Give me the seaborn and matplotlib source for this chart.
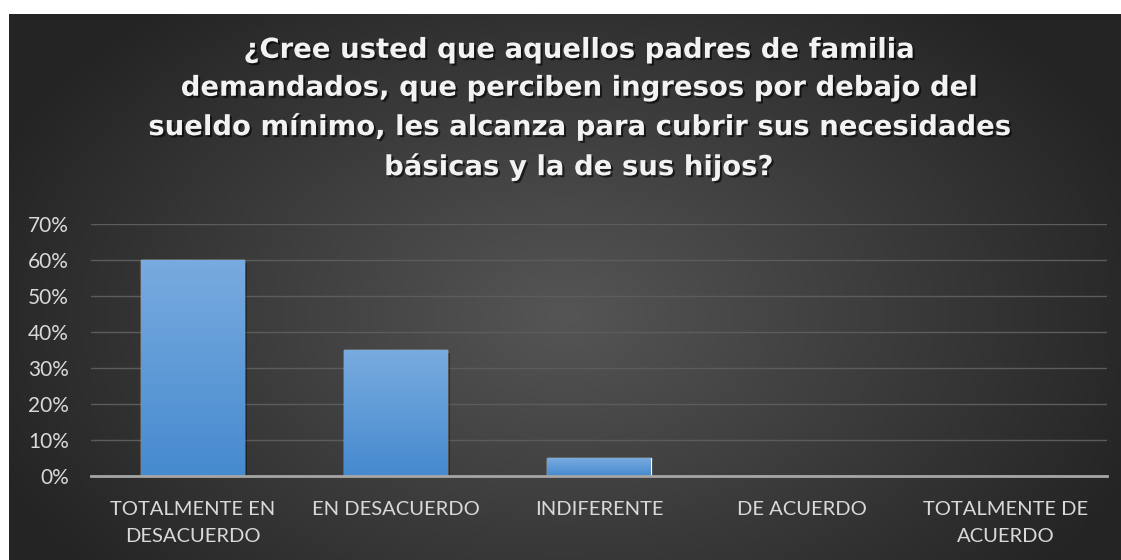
import numpy as np
import pandas as pd
import matplotlib
matplotlib.use('Agg')
import matplotlib.pyplot as plt
import matplotlib.patheffects as pe
from matplotlib.colors import LinearSegmentedColormap
from matplotlib.ticker import PercentFormatter, MultipleLocator
import seaborn as sns

# data
categories = ['TOTALMENTE EN\nDESACUERDO', 'EN DESACUERDO', 'INDIFERENTE',
              'DE ACUERDO', 'TOTALMENTE DE\nACUERDO']
shares = [0.60, 0.35, 0.05, 0.0, 0.0]
title = ('¿Cree usted que aquellos padres de familia\n'
         'demandados, que perciben ingresos por debajo del\n'
         'sueldo mínimo, les alcanza para cubrir sus necesidades\n'
         'básicas y la de sus hijos?')

sns.set_theme(style='dark')
plt.rcParams['font.family'] = ['Lato', 'DejaVu Sans']

W, H = 1121, 560
fig = plt.figure(figsize=(W / 100, H / 100), dpi=100, facecolor='white')

# dark radial background (white margin top/left like the source)
bg = fig.add_axes([9 / W, 0, (W - 9) / W, (H - 14) / H])
bg.set_axis_off()
gx, gy = np.meshgrid(np.linspace(0, 1, 400), np.linspace(0, 1, 200))
r = np.sqrt(((gx - 0.5) / 0.75) ** 2 + ((gy - 0.45) / 1.0) ** 2)
r = np.clip(r / 0.75, 0, 1)
bg_cmap = LinearSegmentedColormap.from_list('bg', ['#555555', '#242424'])
bg.imshow(r, cmap=bg_cmap, aspect='auto', extent=[0, 1, 0, 1], origin='lower')

ax = fig.add_axes([91 / W, (H - 476) / H, (1107 - 91) / W, (476 - 224) / H])
ax.patch.set_alpha(0)

df = pd.DataFrame({'cat': categories, 'share': shares})
sns.barplot(data=df, x='cat', y='share', ax=ax, width=0.507,
            color='#5b9bd5', saturation=1, zorder=3)

ax.set_ylim(0, 0.7)
ax.set_xlim(-0.5, len(categories) - 0.5)
ax.yaxis.set_major_locator(MultipleLocator(0.1))
ax.yaxis.set_major_formatter(PercentFormatter(1.0, decimals=0))
ax.grid(axis='y', color='#5c5c5c', linewidth=1.0, zorder=0)
ax.grid(axis='x', visible=False)
for s in ['top', 'right', 'left']:
    ax.spines[s].set_visible(False)
ax.spines['bottom'].set_color('#a6a6a6')
ax.spines['bottom'].set_linewidth(2)
ax.spines['bottom'].set_zorder(5)
ax.set_xlabel('')
ax.set_ylabel('')
ax.tick_params(axis='y', length=0, pad=16, labelsize=15, labelcolor='#d9d9d9')
ax.tick_params(axis='x', length=0, pad=18, labelsize=14.5, labelcolor='#d9d9d9')
for lab in ax.get_xticklabels():
    lab.set_linespacing(1.75)

# vertical gradient fill inside each bar
bar_cmap = LinearSegmentedColormap.from_list('bar', ['#468acf', '#78abdf'])
grad = np.linspace(0, 1, 100).reshape(-1, 1)
for p in ax.patches:
    x0, y0 = p.get_x(), p.get_y()
    w, h = p.get_width(), p.get_height()
    if h <= 0:
        continue
    p.set_path_effects([pe.SimplePatchShadow(offset=(2, -2), shadow_rgbFace='black', alpha=0.35),
                        pe.Normal()])
    im = ax.imshow(grad, cmap=bar_cmap, aspect='auto', origin='lower',
                   extent=[x0, x0 + w, y0, y0 + h], zorder=4)
    im.set_clip_path(p)
ax.set_xlim(-0.5, len(categories) - 0.5)
ax.set_ylim(0, 0.7)

fig.text(578 / W, 1 - 108.5 / H, title, ha='center', va='center', fontsize=19.8,
         fontweight='bold', family='DejaVu Sans', color='#f2f2f2', linespacing=1.45,
         path_effects=[pe.withSimplePatchShadow(offset=(1.5, -1.5), shadow_rgbFace='black', alpha=0.6)])

fig.savefig('out.png', dpi=100, facecolor='white')
